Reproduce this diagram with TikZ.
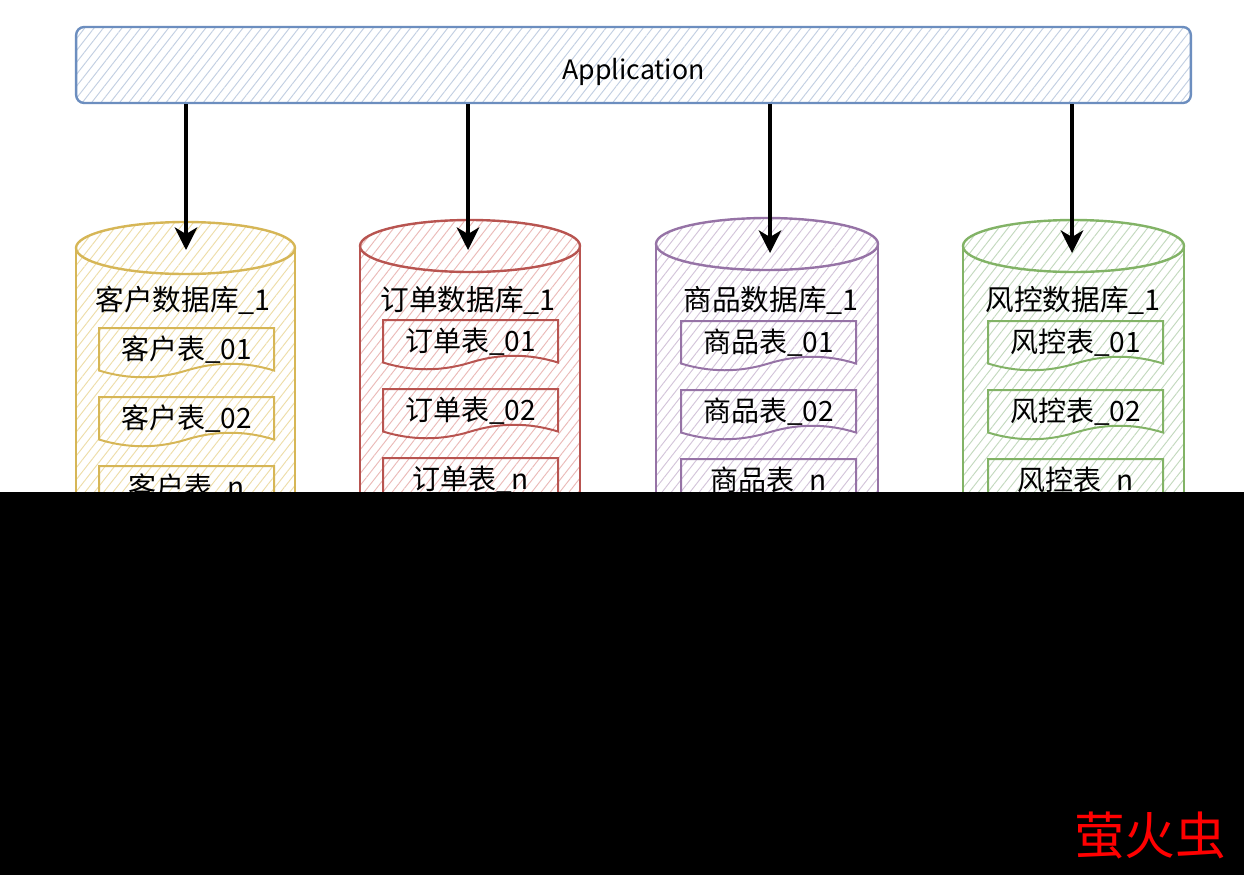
\documentclass[tikz,border=0pt]{standalone}
\usepackage{fontspec}
\setmainfont{Noto Sans CJK SC}
\usetikzlibrary{arrows.meta,patterns.meta}
\definecolor{appS}{HTML}{6C8EBF}
\definecolor{appH}{HTML}{C2CFE2}
\definecolor{yS}{HTML}{D6B656}
\definecolor{yH}{HTML}{EEDDA8}
\definecolor{rS}{HTML}{B85450}
\definecolor{rH}{HTML}{EBBAB8}
\definecolor{pS}{HTML}{9673A6}
\definecolor{pH}{HTML}{D3C4DA}
\definecolor{gS}{HTML}{82B366}
\definecolor{gH}{HTML}{C3D9BE}
\tikzset{
  hatch/.style={preaction={fill=white},pattern={Lines[angle=52,distance=5.5pt,line width=0.7pt]},pattern color=#1},
  arr/.style={line width=2.3pt,-{Stealth[length=17pt,width=17pt,inset=5pt]}},
  lbl/.style={inner sep=0pt,font=\fontsize{21.5}{24}\selectfont},
  tbl/.style={inner sep=0pt,font=\fontsize{21}{24}\selectfont},
  appbox/.style={draw=appS,line width=1.8pt,rounded corners=6pt,hatch=appH,minimum width=836pt,minimum height=57pt,
    text height=22pt,text depth=0pt,font=\fontsize{20}{22}\selectfont}
}
% #1 xL, #2 xR, #3 yTop, #4 stroke, #5 hatch
\newcommand\dbcyl[5]{%
  \path[hatch=#5] (#1,#3+26) rectangle (#2,640);
  \path[hatch=#5] ({(#1+#2)/2},#3+26) ellipse [x radius={(#2-#1)*0.375pt}, y radius=19.5pt];
  \draw[#4,line width=1.8pt] (#1,#3+26) -- (#1,640) (#2,#3+26) -- (#2,640);
  \draw[#4,line width=1.8pt] ({(#1+#2)/2},#3+26) ellipse [x radius={(#2-#1)*0.375pt}, y radius=19.5pt];
}
% #1 name, #2 xc, #3 yTop, #4 stroke, #5 hatch, #6 text
\newcommand\docb[6]{%
  \draw[#4,line width=1.5pt,hatch=#5] (#2-87.5,#3) -- (#2+87.5,#3) -- (#2+87.5,#3+42.5)
    .. controls (#2+58.3,#3+33.5) and (#2+29.2,#3+33.5) .. (#2,#3+42.5)
    .. controls (#2-29.2,#3+51.5) and (#2-58.3,#3+51.5) .. (#2-87.5,#3+42.5) -- cycle;
  \node[tbl] (#1) at (#2,#3+22) {#6};
}
\begin{document}
\begin{tikzpicture}[x=0.75pt,y=-0.75pt]
\useasboundingbox (0,0) rectangle (1244,875);
\fill[white] (0,0) rectangle (1244,875);
% cylinders
\dbcyl{76}{295}{222}{yS}{yH}
\dbcyl{360}{580}{220}{rS}{rH}
\dbcyl{656}{878}{218}{pS}{pH}
\dbcyl{963}{1184}{220}{gS}{gH}
% db labels
\node[lbl] (ydb) at (183,300) {客户数据库\_1};
\node[lbl] (rdb) at (468,300) {订单数据库\_1};
\node[lbl] (pdb) at (771,300) {商品数据库\_1};
\node[lbl] (gdb) at (1073,300) {风控数据库\_1};
% tables
\docb{y1}{186.5}{328}{yS}{yH}{客户表\_01}
\docb{y2}{186.5}{397}{yS}{yH}{客户表\_02}
\docb{y3}{186.5}{466}{yS}{yH}{客户表\_n}
\docb{r1}{470.5}{320}{rS}{rH}{订单表\_01}
\docb{r2}{470.5}{389}{rS}{rH}{订单表\_02}
\docb{r3}{470.5}{458}{rS}{rH}{订单表\_n}
\docb{p1}{768.5}{321}{pS}{pH}{商品表\_01}
\docb{p2}{768.5}{390}{pS}{pH}{商品表\_02}
\docb{p3}{768.5}{459}{pS}{pH}{商品表\_n}
\docb{g1}{1075.5}{321}{gS}{gH}{风控表\_01}
\docb{g2}{1075.5}{390}{gS}{gH}{风控表\_02}
\docb{g3}{1075.5}{459}{gS}{gH}{风控表\_n}
% application
\node[appbox] (app) at (633.5,65) {Application};
% arrow targets
\coordinate (t1) at (186,250);
\coordinate (t2) at (468,250);
\coordinate (t3) at (770,253);
\coordinate (t4) at (1072,253);
\foreach \t in {t1,t2,t3,t4}{\draw[arr] (app.south -| \t) -- (\t);}
% black band
\fill[black] (0,492) rectangle (1244,875);
\node[text=red,inner sep=0pt,font=\fontsize{38}{40}\selectfont] (wm) at (1150,835) {萤火虫};
\end{tikzpicture}
\end{document}
